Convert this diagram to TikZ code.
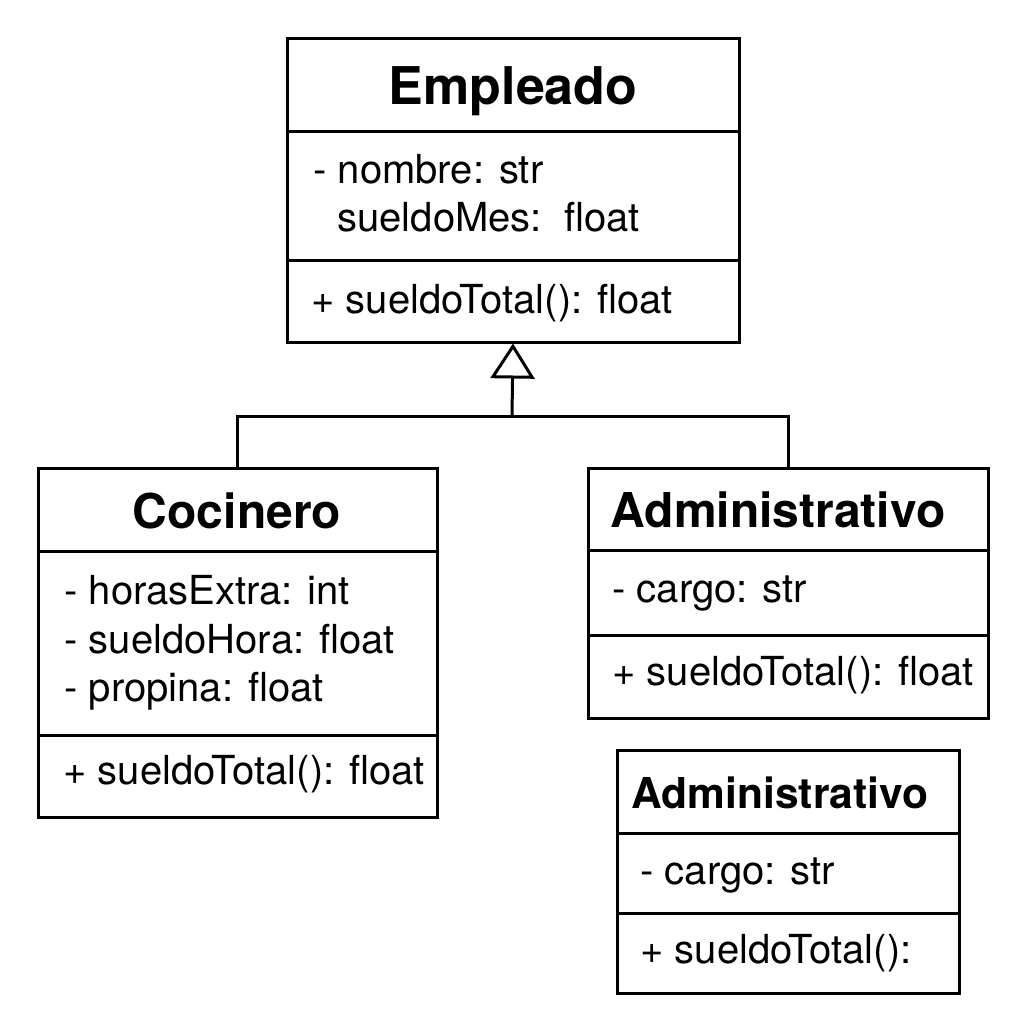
\documentclass[tikz,border=0pt]{standalone}
\usepackage{fontspec}
\setmainfont{TeX Gyre Heros}
\usetikzlibrary{arrows.meta}

\begin{document}
\begin{tikzpicture}[x=1pt, y=-1pt, line width=3pt,
    part/.style={shape=rectangle, draw=black, fill=white, inner sep=0pt},
    classname/.style={anchor=base, inner sep=0pt, font=\bfseries\fontsize{48}{52}\selectfont},
    member/.style={anchor=base west, inner sep=0pt, font=\fontsize{40}{44}\selectfont}]
          \useasboundingbox (0,0) rectangle (1024,1024);

          % compartments
          \node[part, minimum width=452pt, minimum height=93pt] at (513,85.5) (empHead) {};
          \node[part, minimum width=452pt, minimum height=128pt] at (513,196) (empAttrs) {};
          \node[part, minimum width=452pt, minimum height=82pt] at (513,301) (empOps) {};

          \node[part, minimum width=399pt, minimum height=83pt] at (237.5,509.5) (cocHead) {};
          \node[part, minimum width=399pt, minimum height=184pt] at (237.5,643) (cocAttrs) {};
          \node[part, minimum width=399pt, minimum height=82pt] at (237.5,776) (cocOps) {};

          \node[part, minimum width=400pt, minimum height=82pt] at (788,509) (admHead) {};
          \node[part, minimum width=400pt, minimum height=85pt] at (788,592.5) (admAttrs) {};
          \node[part, minimum width=400pt, minimum height=83pt] at (788,676.5) (admOps) {};

          \node[part, minimum width=342pt, minimum height=83pt] at (788,791.5) (adm2Head) {};
          \node[part, minimum width=342pt, minimum height=80pt] at (788,873) (adm2Attrs) {};
          \node[part, minimum width=342pt, minimum height=80pt] at (788,953) (adm2Ops) {};

          % texts
          \node[classname, font=\bfseries\fontsize{52}{56}\selectfont] at (513,105) (empName) {Empleado};
          \node[member] at (312,184) (empNombre) {- nombre: str};
          \node[member] at (336,232) (empSueldo) {sueldoMes:~~float};
          \node[member] at (310,313) (empTotal) {+ sueldoTotal(): float};

          \node[classname] at (237,528) (cocName) {Cocinero};
          \node[member] at (63,604) (cocHoras) {- horasExtra: int};
          \node[member] at (63,653) (cocSueldo) {- sueldoHora: float};
          \node[member] at (63,701) (cocPropina) {- propina: float};
          \node[member] at (62,784) (cocTotal) {+ sueldoTotal(): float};

          \node[classname] at (778,527) (admName) {Administrativo};
          \node[member] at (611,602) (admCargo) {- cargo: str};
          \node[member] at (611,685) (admTotal) {+ sueldoTotal(): float};

          \node[classname, font=\bfseries\fontsize{42.5}{46}\selectfont] at (780,808) (adm2Name) {Administrativo};
          \node[member] at (639,884) (adm2Cargo) {- cargo: str};
          \node[member] at (639,963) (adm2Total) {+ sueldoTotal():};

          % arcs
          \coordinate (join) at (512,416);
          \draw[line cap=rect]
          (cocHead.north) |- (join) -| (admHead.north)
          ;
          \draw[-{Triangle[open, length=35pt, width=44pt]}]
          (join) -- (empOps.south)
          ;
        \end{tikzpicture}
\end{document}
